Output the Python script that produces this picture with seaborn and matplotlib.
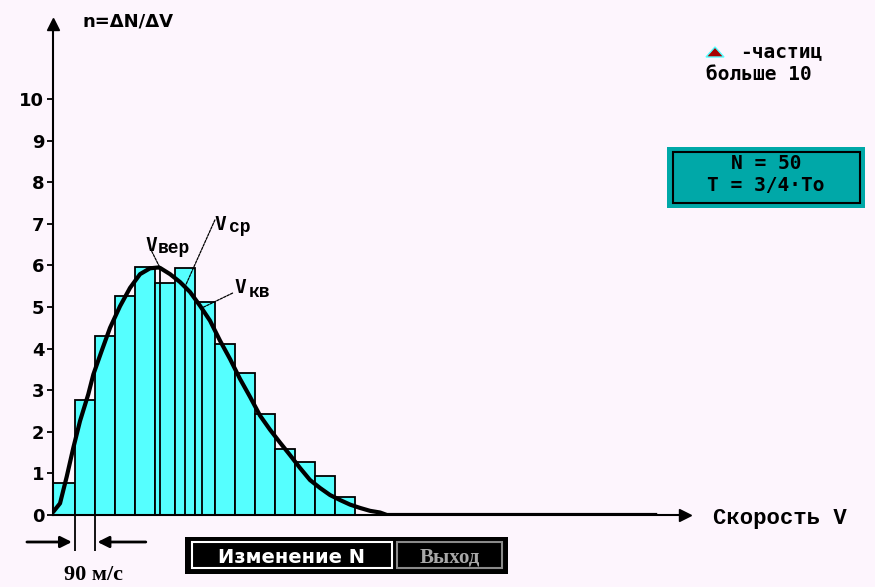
import numpy as np
import matplotlib
matplotlib.use("Agg")
import matplotlib.pyplot as plt
from matplotlib.patches import Rectangle, Polygon
import seaborn as sns

# Histogram of particle speeds (m/s), bin width 90 m/s
bin_edges = [0, 99, 189, 279, 369, 459, 549, 639, 729, 819, 909, 999, 1089, 1179, 1269, 1359]
bar_heights = [0.78, 2.76, 4.30, 5.26, 5.95, 5.57, 5.93, 5.12, 4.10, 3.42, 2.42, 1.58, 1.28, 0.93, 0.44]

# Theoretical distribution curve n = dN/dv
curve_v = [6, 33, 63, 93, 123, 160, 183, 220, 258, 303, 348, 393, 438, 475, 483, 528,
           573, 618, 663, 708, 753, 798, 843, 888, 933, 978, 1023, 1068, 1113, 1158,
           1203, 1248, 1293, 1338, 1383, 1428, 1473, 1504, 2711]
curve_n = [0.10, 0.28, 0.92, 1.62, 2.26, 2.90, 3.38, 3.94, 4.50, 5.02, 5.46, 5.79, 5.93, 5.95, 5.94, 5.79,
           5.60, 5.36, 5.03, 4.67, 4.19, 3.75, 3.27, 2.84, 2.39, 2.05, 1.74, 1.44, 1.13, 0.84,
           0.65, 0.48, 0.36, 0.25, 0.17, 0.10, 0.06, 0.0, 0.0]

# Characteristic speeds: most probable, mean, root-mean-square
v_ver, v_sr, v_kv = 483, 595, 670

y_ticks = list(range(11))
n_particles = 50

BG = "#FDF5FD"
CYAN = "#55FFFF"
TEAL = "#00A8A8"

W_PX, H_PX = 875, 587
fig = plt.figure(figsize=(W_PX / 100, H_PX / 100), dpi=100, facecolor=BG)

# axes frame in pixels: origin (52.7, 515), 4.5 m/s per px, 41.6 px per unit
x0, y0, x1, y1 = 52.7, 515.0, 685.0, 24.0
ax = fig.add_axes([x0 / W_PX, 1 - y0 / H_PX, (x1 - x0) / W_PX, (y0 - y1) / H_PX])
ax.set_facecolor(BG)
XMAX = (x1 - x0) * 4.5
YMAX = (y0 - y1) / 41.6

centers = 0.5 * (np.array(bin_edges[:-1]) + np.array(bin_edges[1:]))
sns.histplot(x=centers, weights=bar_heights, bins=bin_edges, color=CYAN,
             edgecolor="black", linewidth=1.3, alpha=1, ax=ax, zorder=1)

# speed markers up to the curve
marks = [v_ver, v_sr, v_kv]
tops = np.interp(marks, curve_v, curve_n)
ax.vlines(marks, 0, tops, color="black", lw=1.3, zorder=1.5)

sns.lineplot(x=curve_v, y=curve_n, color="black", linewidth=3.0, ax=ax, zorder=3)

ax.set_xlim(0, XMAX)
ax.set_ylim(0, YMAX)
ax.set_xlabel("")
ax.set_ylabel("")
for s in ["top", "right"]:
    ax.spines[s].set_visible(False)
for s in ["left", "bottom"]:
    ax.spines[s].set_linewidth(1.5)
    ax.spines[s].set_color("black")
ax.set_xticks([])
ax.set_yticks(y_ticks)
ax.set_yticklabels([str(t) for t in y_ticks], fontsize=13, fontweight="bold",
                   family="DejaVu Sans")
ax.tick_params(axis="y", direction="out", length=4.5, width=1.3, pad=1.5, color="black")

# axis arrowheads
ax.plot([XMAX], [0], marker=">", ms=8, color="black", clip_on=False, zorder=5)
ax.plot([0], [YMAX], marker="^", ms=8, color="black", clip_on=False, zorder=5)

# labels for characteristic speeds
def speed_label(v, y, line_off, v_off, sub, sub_off):
    ax.annotate("", xy=(v, y), xytext=line_off, textcoords="offset pixels",
                arrowprops=dict(arrowstyle="-", lw=0.9, color="black", linestyle=(0, (2, 1)),
                                shrinkA=0, shrinkB=0), annotation_clip=False)
    ax.annotate("V", xy=(v, y), xytext=v_off, textcoords="offset pixels",
                ha="left", va="baseline", fontsize=14, fontweight="bold",
                family="DejaVu Sans Mono")
    ax.annotate(sub, xy=(v, y), xytext=sub_off, textcoords="offset pixels",
                ha="left", va="baseline", fontsize=13, fontweight="bold",
                family="Liberation Mono")

speed_label(v_ver, tops[0], (-10, 20), (-15, 17), "вер", (-2, 15))
speed_label(v_sr, tops[1], (30, 67), (30, 57), "ср", (44, 55))
speed_label(v_kv, tops[2], (31, 15), (33, 15), "кв", (47, 11))

# bin width indicator
y_tick_low = (y0 - 551) / 41.6
y_arrow = (y0 - 542) / 41.6
ax.vlines([bin_edges[1], bin_edges[2]], y_tick_low, 0, color="black", lw=1.3, clip_on=False)
ax.annotate("", xy=(bin_edges[1], y_arrow), xytext=(bin_edges[1] - 215, y_arrow),
            arrowprops=dict(arrowstyle="-|>", lw=2, color="black", mutation_scale=17,
                            shrinkA=0, shrinkB=2), annotation_clip=False)
ax.annotate("", xy=(bin_edges[2], y_arrow), xytext=(bin_edges[2] + 230, y_arrow),
            arrowprops=dict(arrowstyle="-|>", lw=2, color="black", mutation_scale=17,
                            shrinkA=0, shrinkB=2), annotation_clip=False)


def ftext(x, y, s, **kw):
    return fig.text(x / W_PX, 1 - y / H_PX, s, **kw)


def frect(xa, ya, xb, yb, **kw):
    r = Rectangle((xa / W_PX, 1 - yb / H_PX), (xb - xa) / W_PX, (yb - ya) / H_PX,
                  transform=fig.transFigure, **kw)
    fig.add_artist(r)


ftext(82, 27, "n=ΔN/ΔV", fontsize=13, fontweight="bold", family="DejaVu Sans",
      ha="left", va="baseline")
ftext(713, 524, "Скорость V", fontsize=16, fontweight="bold", family="Liberation Mono",
      ha="left", va="baseline")
ftext(94, 580, "90 м/с", fontsize=16, fontweight="bold", family="Liberation Serif",
      ha="center", va="baseline")

# legend marker
tri = Polygon([(706 / W_PX, 1 - 57 / H_PX), (724 / W_PX, 1 - 57 / H_PX), (715 / W_PX, 1 - 47 / H_PX)],
              closed=True, transform=fig.transFigure, facecolor="#A80000", edgecolor=CYAN, lw=1)
fig.add_artist(tri)
ftext(740, 57, "-частиц", fontsize=14, fontweight="bold", family="DejaVu Sans Mono",
      ha="left", va="baseline")
ftext(706, 80, "больше 10", fontsize=14, fontweight="bold", family="DejaVu Sans Mono",
      ha="left", va="baseline")

# parameter box
frect(667, 147, 865, 208, facecolor=TEAL, edgecolor="none")
frect(673, 152, 860, 203, facecolor="none", edgecolor="black", lw=1.5)
ftext(766, 169, f"N = {n_particles}", fontsize=14, fontweight="bold", family="DejaVu Sans Mono",
      ha="center", va="baseline")
ftext(766, 191, "T = 3/4·To", fontsize=14, fontweight="bold", family="DejaVu Sans Mono",
      ha="center", va="baseline")

# menu buttons
frect(185, 537, 508, 574, facecolor="black", edgecolor="none")
frect(192, 542, 392, 568, facecolor="black", edgecolor="white", lw=1.5)
frect(397, 542, 502, 568, facecolor="black", edgecolor="#8A8A8A", lw=1.5)
ftext(292, 563, "Изменение N", fontsize=14, fontweight="bold", family="DejaVu Sans",
      color="white", ha="center", va="baseline")
ftext(450, 563, "Выход", fontsize=15, fontweight="bold", family="Liberation Serif",
      color="#A8A8A8", ha="center", va="baseline")

fig.savefig("out.png", dpi=100, facecolor=BG)
